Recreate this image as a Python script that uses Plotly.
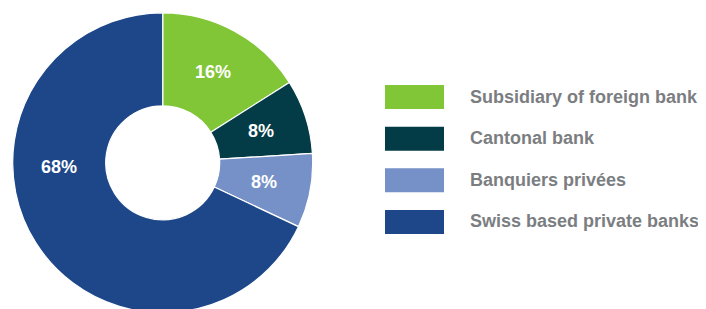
import math
import plotly.graph_objects as go

labels = ["Subsidiary of foreign bank", "Cantonal bank", "Banquiers privées", "Swiss based private banks"]
values = [16, 8, 8, 68]
colors = ["#80C637", "#033C47", "#7591C7", "#1E4789"]
pct_text = ["16%", "8%", "8%", "68%"]

W, H = 690, 309
OFF = 8  # page body margin
cx, cy, r = 162.7 - OFF, 162.8 - OFF, 150.0
HOLE = 0.38

fig = go.Figure()
fig.add_trace(go.Pie(
    labels=labels,
    values=values,
    sort=False,
    direction="clockwise",
    rotation=0,
    hole=HOLE,
    marker=dict(colors=colors, line=dict(color="white", width=1.2)),
    textinfo="none",
    domain=dict(x=[(cx - r) / W, (cx + r) / W], y=[1 - (cy + r) / H, 1 - (cy - r) / H]),
    showlegend=False,
    hoverinfo="skip",
))

# slice labels placed at the middle of the ring
total = sum(values)
rl = (HOLE * r + r) / 2
cum = 0
for i, (v, t) in enumerate(zip(values, pct_text)):
    mid = (cum + v / 2) / total * 2 * math.pi
    cum += v
    if i == len(values) - 1:
        mid = 1.5 * math.pi - 0.04  # large slice: label at the left side of ring
    px = cx + rl * math.sin(mid)
    py = cy - rl * math.cos(mid)
    fig.add_annotation(x=px / W, y=1 - py / H, xref="paper", yref="paper",
                       xanchor="center", yanchor="middle",
                       text="<b>" + t + "</b>", showarrow=False,
                       font=dict(family="Liberation Sans", size=18, color="white"))

# custom legend
row_y = [97, 138.7, 180.3, 222]
for lab, col, yy in zip(labels, colors, row_y):
    y = yy - OFF
    fig.add_shape(type="rect", xref="paper", yref="paper",
                  x0=(385 - OFF) / W, x1=(444 - OFF) / W, y0=1 - (y + 12) / H, y1=1 - (y - 12) / H,
                  fillcolor=col, line=dict(width=0))
    fig.add_annotation(x=(468 - OFF) / W, y=1 - (y - 0.5) / H, xref="paper", yref="paper",
                       xanchor="left", yanchor="middle", text="<b>" + lab + "</b>",
                       showarrow=False,
                       font=dict(family="Liberation Sans", size=18, color="#7B7E81"))

fig.update_layout(width=W, height=H, margin=dict(l=0, r=0, t=0, b=0),
                  paper_bgcolor="white", plot_bgcolor="white")
fig.write_html("out.html")
